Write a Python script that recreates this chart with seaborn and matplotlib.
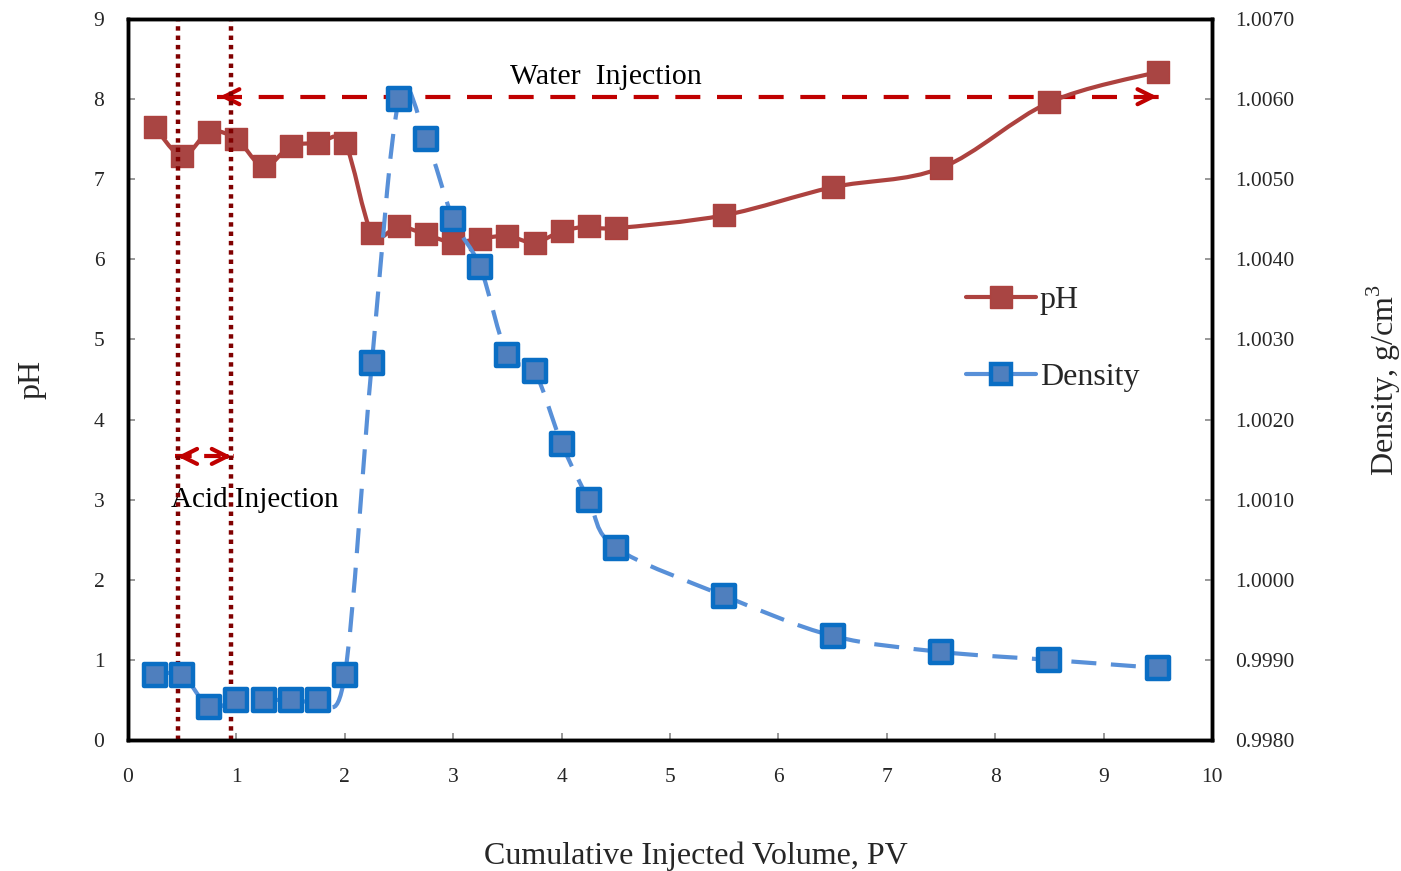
import numpy as np
import matplotlib
matplotlib.use("Agg")
import matplotlib.pyplot as plt
import seaborn as sns
import pandas as pd
from matplotlib.path import Path
from matplotlib.patches import PathPatch
from matplotlib.lines import Line2D

# ---------------- data ----------------
pv = [0.25, 0.5, 0.75, 1.0, 1.25, 1.5, 1.75, 2.0, 2.25, 2.5, 2.75, 3.0, 3.25,
      3.5, 3.75, 4.0, 4.25, 4.5, 5.5, 6.5, 7.5, 8.5, 9.5]
ph = [7.65, 7.29, 7.59, 7.50, 7.16, 7.41, 7.45, 7.45, 6.33, 6.41, 6.31, 6.21, 6.26,
      6.29, 6.21, 6.35, 6.41, 6.39, 6.55, 6.90, 7.14, 7.96, 8.34]
density = [0.99881, 0.99881, 0.99841, 0.99850, 0.99850, 0.99850, 0.99850, 0.99881,
           1.00271, 1.00600, 1.00550, 1.00450, 1.00390, 1.00280, 1.00260, 1.00170,
           1.00100, 1.00040, 0.99980, 0.99930, 0.99910, 0.99900, 0.99890]
x_ticks = list(range(0, 11))
ph_ticks = list(range(0, 10))
dens_ticks = [0.9980, 0.9990, 1.0000, 1.0010, 1.0020, 1.0030, 1.0040, 1.0050, 1.0060, 1.0070]
acid_bounds = [0.46, 0.95]
water_arrow = [0.82, 9.52]
water_arrow_ph = 8.03
acid_arrow = [0.43, 0.98]
acid_arrow_ph = 3.54

df = pd.DataFrame({"pv": pv, "ph": ph, "density": density})

# ---------------- style ----------------
sns.set_theme(style="white")
plt.rcParams["font.family"] = ["Liberation Serif", "DejaVu Serif"]
plt.rcParams["mathtext.fontset"] = "custom"
plt.rcParams["mathtext.rm"] = "Liberation Serif"

PH_LINE = "#AD423F"
PH_FACE = "#A94543"
D_LINE = "#5890D8"
D_FACE = "#4F7FBE"
D_EDGE = "#0A6EC4"

fig = plt.figure(figsize=(14.01, 8.71), dpi=100)
ax = fig.add_axes([128/1401, 1-740/871, (1212-128)/1401, (740-19)/871])
ax2 = ax.twinx()


def smooth_path(xs, ys):
    P = np.column_stack([xs, ys]).astype(float)
    n = len(P)
    verts = [tuple(P[0])]
    codes = [Path.MOVETO]
    for i in range(n - 1):
        p0 = P[i - 1] if i > 0 else P[i]
        p3 = P[i + 2] if i + 2 < n else P[i + 1]
        c1 = P[i] + (P[i + 1] - p0) / 6.0
        c2 = P[i + 1] - (p3 - P[i]) / 6.0
        verts += [tuple(c1), tuple(c2), tuple(P[i + 1])]
        codes += [Path.CURVE4] * 3
    return Path(verts, codes)


# pH curve
ax.add_patch(PathPatch(smooth_path(df.pv, df.ph), fill=False, edgecolor=PH_LINE,
                       lw=3.0, zorder=3, capstyle="round"))
sns.scatterplot(data=df, x="pv", y="ph", ax=ax, marker="s", s=270, color=PH_FACE,
                edgecolor=PH_LINE, linewidth=1.0, zorder=4, legend=False)

# acid injection vertical dotted lines
for xb in acid_bounds:
    ax.axvline(xb, color="#800000", lw=3.2, linestyle=(0, (1, 1.1)), zorder=5)

# water injection arrow
ax.plot(water_arrow, [water_arrow_ph] * 2, color="#C00000", lw=3.0,
        linestyle=(0, (6, 4)), zorder=2)
for xe, xs in [(water_arrow[0], water_arrow[0] + 0.15), (water_arrow[1], water_arrow[1] - 0.15)]:
    ax.annotate("", xy=(xe, water_arrow_ph), xytext=(xs, water_arrow_ph),
                arrowprops=dict(arrowstyle="->,head_length=0.9,head_width=0.45",
                                color="#C00000", lw=3.0), zorder=2)
# acid injection arrow
ax.plot(acid_arrow, [acid_arrow_ph] * 2, color="#C00000", lw=3.0,
        linestyle=(0, (4, 3)), zorder=2)
for xe, xs in [(acid_arrow[0], acid_arrow[0] + 0.12), (acid_arrow[1], acid_arrow[1] - 0.12)]:
    ax.annotate("", xy=(xe, acid_arrow_ph), xytext=(xs, acid_arrow_ph),
                arrowprops=dict(arrowstyle="->,head_length=0.9,head_width=0.45",
                                color="#C00000", lw=3.0), zorder=2)

ax.text(4.41, 8.27, "Water  Injection", ha="center", va="center", fontsize=21.5, color="black")
ax.text(0.40, 3.0, "Acid Injection", ha="left", va="center", fontsize=21, color="black")

# density curve
ax2.add_patch(PathPatch(smooth_path(df.pv, df.density), fill=False, edgecolor=D_LINE,
                        lw=3.0, linestyle=(0, (6, 3.5)), zorder=3))
sns.scatterplot(data=df, x="pv", y="density", ax=ax2, marker="s", s=260, color=D_FACE,
                edgecolor=D_EDGE, linewidth=3.2, zorder=4, legend=False)

# axes
ax.set_xlim(0, 10)
ax.set_ylim(0, 9)
ax2.set_ylim(0.9980, 1.0070)
ax.set_xticks(x_ticks)
ax.set_yticks(ph_ticks)
ax2.set_yticks(dens_ticks)
ax2.set_yticklabels([f"{v:.4f}" for v in dens_ticks])
ax.set_xlabel("Cumulative Injected Volume, PV", fontsize=23)
ax.xaxis.set_label_coords(0.524, -0.141)
ax.set_ylabel("pH", fontsize=23, labelpad=34)
ax2.set_ylabel("Density, g/cm$^3$", fontsize=23, labelpad=50)

for a in (ax, ax2):
    for sp in a.spines.values():
        sp.set_color("black")
        sp.set_linewidth(2.5)
    a.grid(False)
ax.tick_params(axis="x", direction="in", length=5, width=1.2, color="#888888",
               labelsize=15.5, pad=20, bottom=True)
ax.tick_params(axis="y", direction="in", length=5, width=1.2, color="#888888",
               labelsize=15.5, pad=17, left=True)
ax2.tick_params(axis="y", direction="in", length=5, width=1.2, color="#888888",
                labelsize=15.5, pad=17, right=True)

# legend
handles = [
    Line2D([0], [0], color=PH_LINE, lw=3.0, marker="s", markersize=16,
           markerfacecolor=PH_FACE, markeredgecolor=PH_LINE, markeredgewidth=1.0),
    Line2D([0], [0], color=D_LINE, lw=3.0, marker="s", markersize=15,
           markerfacecolor=D_FACE, markeredgecolor=D_EDGE, markeredgewidth=3.2),
]
fig.legend(handles, ["pH", "Density"], loc="upper left",
           bbox_to_anchor=(937/1401, 1-257/871), frameon=False, fontsize=23,
           handlelength=2.2, handletextpad=0.12, labelspacing=1.5)

fig.savefig("out.png", dpi=100)
